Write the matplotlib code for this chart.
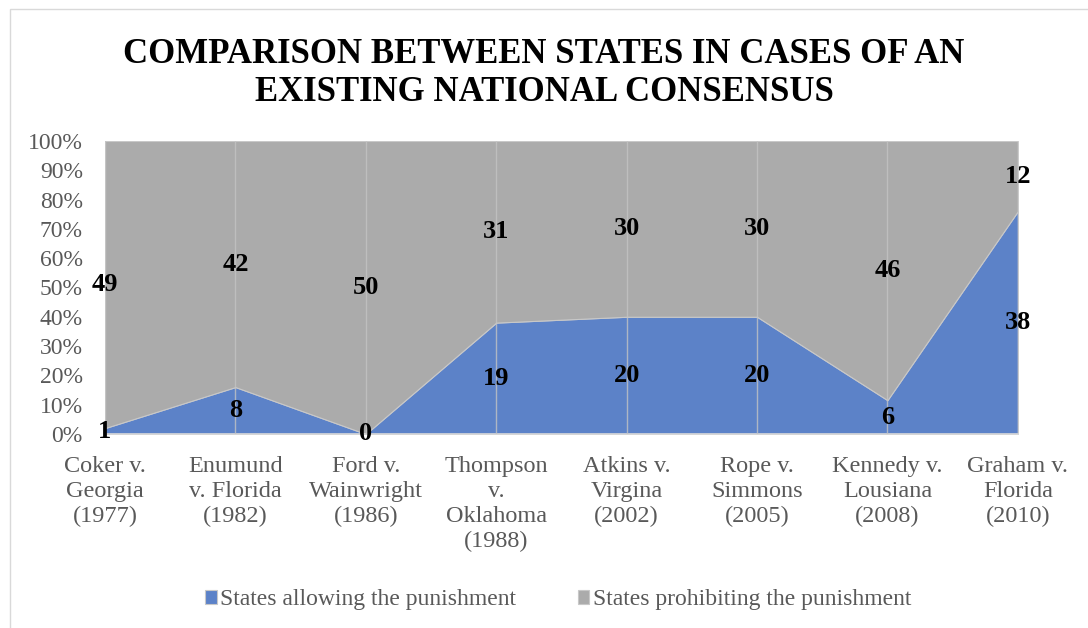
import numpy as np
import matplotlib.pyplot as plt
from matplotlib.patches import Rectangle

plt.rcParams['font.family'] = ['Liberation Serif', 'DejaVu Serif']

# -----------------------------
# DATA
# -----------------------------
cases = ["Coker v.\nGeorgia\n(1977)", "Enumund\nv. Florida\n(1982)", "Ford v.\nWainwright\n(1986)",
         "Thompson\nv.\nOklahoma\n(1988)", "Atkins v.\nVirgina\n(2002)", "Rope v.\nSimmons\n(2005)",
         "Kennedy v.\nLousiana\n(2008)", "Graham v.\nFlorida\n(2010)"]
allowing = [1, 8, 0, 19, 20, 20, 6, 38]
prohibiting = [49, 42, 50, 31, 30, 30, 46, 12]

blue = "#5c82c8"
gray = "#ababab"
txt = "#595959"

allow = np.array(allowing, dtype=float)
prohib = np.array(prohibiting, dtype=float)
total = allow + prohib
allow_pct = allow / total * 100
prohib_pct = prohib / total * 100
x = np.arange(len(cases))

fig = plt.figure(figsize=(10.88, 6.28), dpi=100)
ax = fig.add_axes([0.0965, 0.309, 0.839, 0.4665])

ax.stackplot(x, allow_pct, prohib_pct, colors=[blue, gray],
             labels=["States allowing the punishment", "States prohibiting the punishment"],
             edgecolor="#c8c8c8", linewidth=0.8)

# gridlines
for xi in x:
    ax.axvline(xi, color="#c4c4c4", linewidth=1, zorder=3, alpha=0.8)
for yv in range(10, 100, 10):
    ax.axhline(yv, color="#b4b4b4", linewidth=0.6, zorder=0.5, alpha=0.5)

# data labels
for i in x:
    ax.text(i, allow_pct[i] / 2, str(allowing[i]), ha="center", va="center",
            fontsize=19, fontweight="bold", color="black", zorder=5)
    ax.text(i, allow_pct[i] + prohib_pct[i] / 2, str(prohibiting[i]), ha="center", va="center",
            fontsize=19, fontweight="bold", color="black", zorder=5)

ax.set_xlim(0, len(cases) - 1)
ax.set_ylim(0, 100)
ax.set_yticks(range(0, 101, 10))
ax.set_yticklabels([f"{v}%" for v in range(0, 101, 10)], fontsize=17, color=txt)
ax.set_xticks(x)
ax.set_xticklabels(cases, fontsize=17.5, color=txt, linespacing=1.25)
ax.tick_params(axis="x", length=0, pad=16)
ax.tick_params(axis="y", length=0, pad=16)
for s in ["top", "right", "left"]:
    ax.spines[s].set_visible(False)
ax.spines["bottom"].set_color("#d9d9d9")
ax.spines["bottom"].set_linewidth(1.2)

fig.text(0.5, 0.913, "COMPARISON BETWEEN STATES IN CASES OF AN",
         ha="center", va="center", fontsize=25, fontweight="bold", color="black")
fig.text(0.5, 0.853, "EXISTING NATIONAL CONSENSUS",
         ha="center", va="center", fontsize=25, fontweight="bold", color="black")

leg = fig.legend(loc="center", bbox_to_anchor=(0.513, 0.045), ncol=2, frameon=False,
                 fontsize=17, handlelength=0.5, handleheight=0.5, handletextpad=0.15,
                 columnspacing=2.6, labelcolor=txt)

# chart border
fig.patches.append(Rectangle((0.009, -0.01), 1.2, 0.995, transform=fig.transFigure,
                             fill=False, edgecolor="#d9d9d9", linewidth=1))

fig.savefig("out.png", dpi=100)
